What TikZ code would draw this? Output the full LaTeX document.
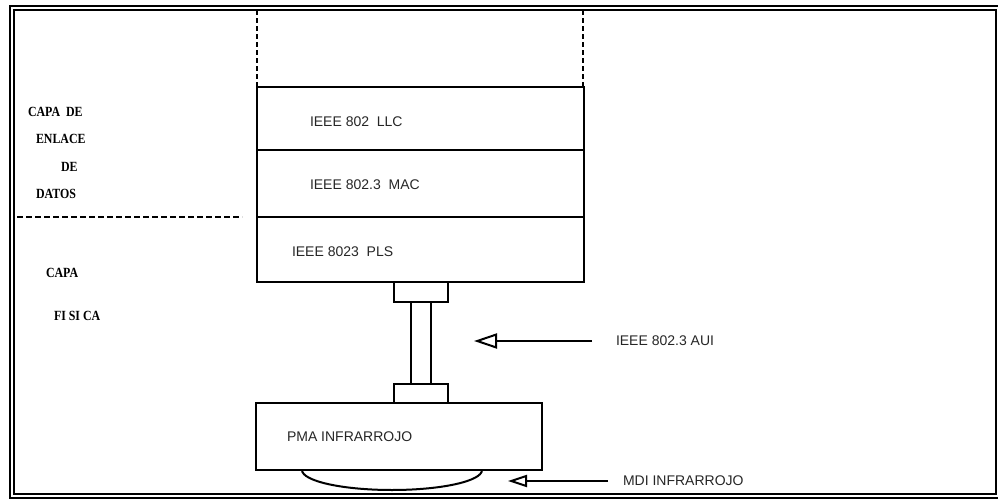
\documentclass[tikz,border=0pt]{standalone}
\usepackage{fontspec}
\setmainfont{Liberation Sans}
\newfontfamily\capafont[FakeStretch=0.85]{Liberation Serif}
\usetikzlibrary{arrows.meta,positioning}

\begin{document}
\begin{tikzpicture}[x=1pt,y=-1pt,line width=2pt,
  box/.style={draw,inner sep=0pt,outer sep=0pt},
  layer/.style={box,minimum width=327pt},
  plug/.style={box,fill=white,minimum width=54pt,minimum height=20pt},
  txt/.style={font=\fontsize{14}{16}\selectfont,text=black!85,inner sep=0pt,anchor=west},
  capa/.style={font=\capafont\bfseries\fontsize{14}{16}\selectfont,inner sep=0pt,anchor=west},
  pointer/.style={-{Triangle[open,length=23pt,width=15pt]}}]
  \useasboundingbox (0,0) rectangle (998,500);
  % marco doble
  \draw (10,6) rectangle (1004,498);
  \draw (14,10) rectangle (996,494);
  % capas
  \node[layer,minimum height=63pt] (llc) at (420.5,118.5) {};
  \node[layer,minimum height=67pt,below=0pt of llc] (mac) {};
  \node[layer,minimum height=65pt,below=0pt of mac] (pls) {};
  \node[txt] (llctxt) at (309,122) {IEEE 802\ \ LLC};
  \node[txt] (mactxt) at (309,185) {IEEE 802.3\ \ MAC};
  \node[txt] (plstxt) at (291,252) {IEEE 8023\ \ PLS};
  \draw[dash pattern=on 5pt off 3pt] (llc.north west) -- (257,10);
  \draw[dash pattern=on 5pt off 3pt] ([xshift=-1pt]llc.north east) -- (583,10);
  % AUI
  \node[plug,below=0pt of pls] (plugtop) {};
  \node[box,minimum width=20pt,minimum height=82pt,below=0pt of plugtop] (aui) {};
  \node[plug,minimum height=19pt,below=0pt of aui] (plugbot) {};
  \node[box,minimum width=286pt,minimum height=67pt] (pma) at (399,436.5) {};
  \node[txt] (pmatxt) at (286,437) {PMA INFRARROJO};
  \draw ([xshift=46pt]pma.south west) arc[start angle=180,end angle=360,x radius=90pt,y radius=20pt];
  % flechas
  \node[txt] (auitxt) at (615,341) {IEEE 802.3 AUI};
  \coordinate (auitip) at (474,341);
  \draw[pointer] ([xshift=-23pt]auitxt.west) -- (auitip);
  \node[txt] (mditxt) at (622,481) {MDI INFRARROJO};
  \coordinate (mditip) at (508,481);
  \draw[-{Triangle[open,length=19pt,width=12pt]}] ([xshift=-14pt]mditxt.west) -- (mditip);
  % capas OSI
  \node[capa] (capade) at (27,112) {CAPA\ \ DE};
  \node[capa] (enlace) at (35,139) {ENLACE};
  \node[capa] (de) at (60,167) {DE};
  \node[capa] (datos) at (35,194) {DATOS};
  \draw[dash pattern=on 6pt off 3pt] (17,217) -- (242,217);
  \node[capa] (capa) at (45,273) {CAPA};
  \node[capa] (fisica) at (53,316) {FI SI CA};
\end{tikzpicture}
\end{document}
